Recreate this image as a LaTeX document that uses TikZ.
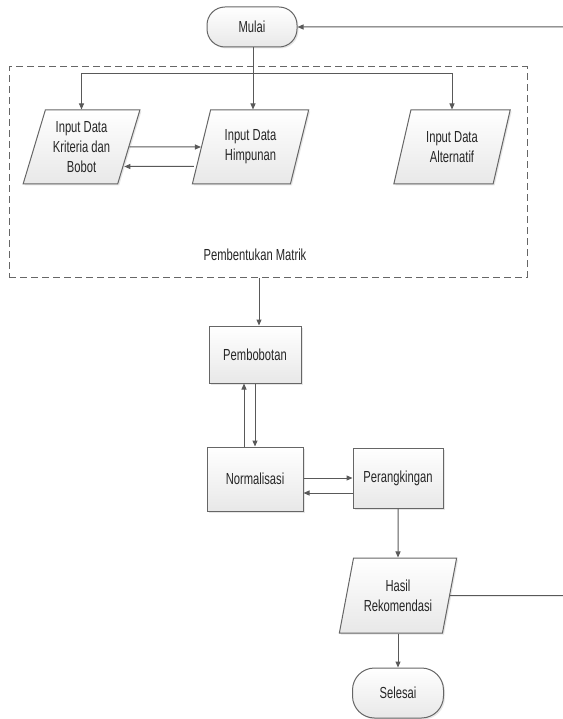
\documentclass[tikz,border=0pt]{standalone}
\usepackage{fontspec}
\setmainfont{Liberation Sans}[FakeStretch=0.7]
\usetikzlibrary{shapes.geometric,shadows,arrows.meta,calc}

\tikzset{
  box/.style={draw=gray!80!black,line width=1pt,top color=white,bottom color=gray!18,
    drop shadow={opacity=0.2,shadow xshift=1.5pt,shadow yshift=-1.5pt},
    text=black!85,align=center,font=\fontsize{16}{20}\selectfont},
  proc/.style={box,rectangle},
  term/.style={box,rectangle,rounded corners=18pt},
  io/.style={box,trapezium,trapezium left angle=71,trapezium right angle=109,
    trapezium stretches=true,minimum width=117pt,minimum height=74pt,inner sep=0pt},
  arr/.style={draw=gray!70!black,line width=1pt,-{Triangle[length=6pt,width=5pt]}},
  line/.style={draw=gray!70!black,line width=1pt}
}

\begin{document}
\begin{tikzpicture}[x=1pt,y=-1pt]
\useasboundingbox (0,0) rectangle (562,719);

% blok pembentukan matrik
\node[draw=gray!80!black,line width=1pt,dashed,dash pattern=on 7pt off 4pt,
  minimum width=518pt,minimum height=210pt,inner sep=0pt] (matrik) at (268,172) {};
\node[text=black!85,font=\fontsize{16}{20}\selectfont] (lblmatrik) at (255,255) {Pembentukan Matrik};

\node[term,minimum width=90pt,minimum height=40pt] (mulai) at (252,27) {Mulai};
\node[io] (kriteria) at (81.5,147) {Input Data\\Kriteria dan\\Bobot};
\node[io] (himpunan) at (250.5,147) {Input Data\\Himpunan};
\node[io] (alternatif) at (452,147) {Input Data\\Alternatif};

\node[proc,minimum width=92pt,minimum height=57pt] (bobot) at (255,354.5) {Pembobotan};
\node[proc,minimum width=96pt,minimum height=64pt] (norm) at (255,479) {Normalisasi};
\node[proc,minimum width=90pt,minimum height=60pt] (rank) at (398,478) {Perangkingan};
\node[io,minimum width=118pt,minimum height=75pt] (hasil) at (398,595.5) {Hasil\\Rekomendasi};
\node[term,minimum width=91pt,minimum height=50pt,rounded corners=22pt] (selesai) at (398,693) {Selesai};

\coordinate (cabang) at (253,74);
\coordinate (balik) at (566,595.5);

% alur input
\draw[line] (mulai.south -| cabang) -- (cabang);
\draw[arr] (cabang) -- (cabang |- himpunan.north);
\draw[arr] (cabang) -| (kriteria.north);
\draw[arr] (cabang) -| (alternatif.north);
\draw[arr] (kriteria.east) -- (himpunan.west);
\draw[arr] ($(himpunan.west)+(-7,19.5)$) -- ($(kriteria.east)+(-5,19.5)$);

% alur proses
\draw[arr] (matrik.south -| 259,0) -- (bobot.north -| 259,0);
\draw[arr] (bobot) -- (norm);
\draw[arr] ([xshift=-11pt]norm.north) -- ([xshift=-11pt]bobot.south);
\draw[arr] (norm.east |- rank) -- (rank.west);
\draw[arr] ([yshift=-15pt]rank.west) -- ([yshift=-15pt]norm.east |- rank.west);
\draw[arr] (rank) -- (hasil);
\draw[arr] (hasil) -- (selesai);
\draw[arr] (hasil.east) -- (balik) -- (balik |- mulai) -- (mulai.east);
\end{tikzpicture}
\end{document}
